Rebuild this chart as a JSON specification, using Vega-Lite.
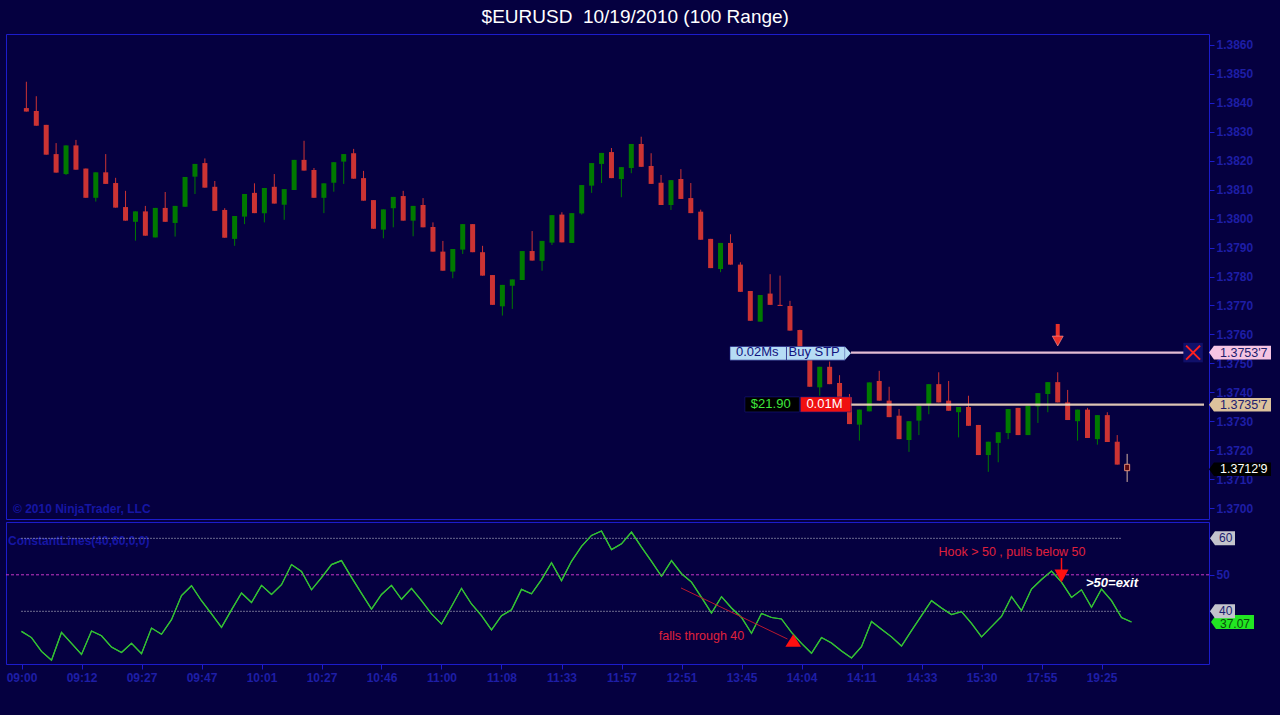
{
  "$schema": "https://vega.github.io/schema/vega-lite/v6.json",
  "background": "#050040",
  "padding": {"left": 5, "top": 7, "right": 0, "bottom": 0},
  "title": {
    "text": "$EURUSD \u00a010/19/2010 (100 Range)",
    "color": "#ffffff",
    "font": "Liberation Sans",
    "fontSize": 19,
    "fontWeight": "normal",
    "anchor": "middle",
    "frame": "bounds",
    "dx": -8,
    "offset": 7
  },
  "spacing": 1,
  "datasets": {
    "bars": [
      {"i": 0, "open": 1.38382, "high": 1.38473, "low": 1.38370, "close": 1.38370, "osc": 34.5},
      {"i": 1, "open": 1.38372, "high": 1.38423, "low": 1.38321, "close": 1.38321, "osc": 32.8},
      {"i": 2, "open": 1.38324, "high": 1.38324, "low": 1.38221, "close": 1.38221, "osc": 29.0},
      {"i": 3, "open": 1.38223, "high": 1.38261, "low": 1.38159, "close": 1.38159, "osc": 26.6},
      {"i": 4, "open": 1.38154, "high": 1.38253, "low": 1.38151, "close": 1.38253, "osc": 34.2},
      {"i": 5, "open": 1.38253, "high": 1.38272, "low": 1.38169, "close": 1.38169, "osc": 31.2},
      {"i": 6, "open": 1.38173, "high": 1.38173, "low": 1.38072, "close": 1.38072, "osc": 28.2},
      {"i": 7, "open": 1.38072, "high": 1.38160, "low": 1.38059, "close": 1.38160, "osc": 34.6},
      {"i": 8, "open": 1.38160, "high": 1.38223, "low": 1.38120, "close": 1.38120, "osc": 33.3},
      {"i": 9, "open": 1.38123, "high": 1.38141, "low": 1.38038, "close": 1.38038, "osc": 30.2},
      {"i": 10, "open": 1.38040, "high": 1.38096, "low": 1.37993, "close": 1.37993, "osc": 28.7},
      {"i": 11, "open": 1.37989, "high": 1.38025, "low": 1.37924, "close": 1.38025, "osc": 31.2},
      {"i": 12, "open": 1.38025, "high": 1.38044, "low": 1.37941, "close": 1.37941, "osc": 28.4},
      {"i": 13, "open": 1.37935, "high": 1.38037, "low": 1.37935, "close": 1.38037, "osc": 35.4},
      {"i": 14, "open": 1.38037, "high": 1.38092, "low": 1.37989, "close": 1.37989, "osc": 33.7},
      {"i": 15, "open": 1.37985, "high": 1.38044, "low": 1.37938, "close": 1.38044, "osc": 37.7},
      {"i": 16, "open": 1.38041, "high": 1.38144, "low": 1.38041, "close": 1.38144, "osc": 44.3},
      {"i": 17, "open": 1.38145, "high": 1.38189, "low": 1.38085, "close": 1.38189, "osc": 47.0},
      {"i": 18, "open": 1.38192, "high": 1.38208, "low": 1.38107, "close": 1.38107, "osc": 42.9},
      {"i": 19, "open": 1.38110, "high": 1.38130, "low": 1.38027, "close": 1.38027, "osc": 39.3},
      {"i": 20, "open": 1.38030, "high": 1.38036, "low": 1.37934, "close": 1.37934, "osc": 35.6},
      {"i": 21, "open": 1.37930, "high": 1.38009, "low": 1.37906, "close": 1.38009, "osc": 40.4},
      {"i": 22, "open": 1.38007, "high": 1.38085, "low": 1.37981, "close": 1.38085, "osc": 45.0},
      {"i": 23, "open": 1.38089, "high": 1.38122, "low": 1.38019, "close": 1.38019, "osc": 42.4},
      {"i": 24, "open": 1.38019, "high": 1.38106, "low": 1.37987, "close": 1.38106, "osc": 47.1},
      {"i": 25, "open": 1.38110, "high": 1.38154, "low": 1.38052, "close": 1.38052, "osc": 44.6},
      {"i": 26, "open": 1.38048, "high": 1.38102, "low": 1.37996, "close": 1.38102, "osc": 47.3},
      {"i": 27, "open": 1.38099, "high": 1.38203, "low": 1.38099, "close": 1.38203, "osc": 52.8},
      {"i": 28, "open": 1.38203, "high": 1.38269, "low": 1.38166, "close": 1.38166, "osc": 50.9},
      {"i": 29, "open": 1.38168, "high": 1.38175, "low": 1.38072, "close": 1.38072, "osc": 45.9},
      {"i": 30, "open": 1.38072, "high": 1.38122, "low": 1.38019, "close": 1.38122, "osc": 49.2},
      {"i": 31, "open": 1.38124, "high": 1.38195, "low": 1.38093, "close": 1.38195, "osc": 52.8},
      {"i": 32, "open": 1.38197, "high": 1.38223, "low": 1.38120, "close": 1.38223, "osc": 53.9},
      {"i": 33, "open": 1.38226, "high": 1.38241, "low": 1.38138, "close": 1.38138, "osc": 49.3},
      {"i": 34, "open": 1.38140, "high": 1.38165, "low": 1.38062, "close": 1.38062, "osc": 44.9},
      {"i": 35, "open": 1.38064, "high": 1.38064, "low": 1.37965, "close": 1.37965, "osc": 40.6},
      {"i": 36, "open": 1.37962, "high": 1.38032, "low": 1.37932, "close": 1.38032, "osc": 44.6},
      {"i": 37, "open": 1.38036, "high": 1.38075, "low": 1.37970, "close": 1.38075, "osc": 47.1},
      {"i": 38, "open": 1.38078, "high": 1.38096, "low": 1.37993, "close": 1.37993, "osc": 43.3},
      {"i": 39, "open": 1.37993, "high": 1.38044, "low": 1.37939, "close": 1.38044, "osc": 46.3},
      {"i": 40, "open": 1.38047, "high": 1.38071, "low": 1.37970, "close": 1.37970, "osc": 42.9},
      {"i": 41, "open": 1.37971, "high": 1.37987, "low": 1.37886, "close": 1.37886, "osc": 39.3},
      {"i": 42, "open": 1.37886, "high": 1.37923, "low": 1.37820, "close": 1.37820, "osc": 36.5},
      {"i": 43, "open": 1.37817, "high": 1.37895, "low": 1.37794, "close": 1.37895, "osc": 41.3},
      {"i": 44, "open": 1.37893, "high": 1.37981, "low": 1.37878, "close": 1.37981, "osc": 46.3},
      {"i": 45, "open": 1.37981, "high": 1.37981, "low": 1.37884, "close": 1.37884, "osc": 42.0},
      {"i": 46, "open": 1.37884, "high": 1.37906, "low": 1.37803, "close": 1.37803, "osc": 38.8},
      {"i": 47, "open": 1.37805, "high": 1.37805, "low": 1.37702, "close": 1.37702, "osc": 34.9},
      {"i": 48, "open": 1.37697, "high": 1.37771, "low": 1.37665, "close": 1.37771, "osc": 38.8},
      {"i": 49, "open": 1.37768, "high": 1.37790, "low": 1.37688, "close": 1.37790, "osc": 40.4},
      {"i": 50, "open": 1.37788, "high": 1.37888, "low": 1.37788, "close": 1.37888, "osc": 46.0},
      {"i": 51, "open": 1.37888, "high": 1.37957, "low": 1.37855, "close": 1.37855, "osc": 44.8},
      {"i": 52, "open": 1.37854, "high": 1.37923, "low": 1.37820, "close": 1.37923, "osc": 48.7},
      {"i": 53, "open": 1.37917, "high": 1.38012, "low": 1.37909, "close": 1.38012, "osc": 53.3},
      {"i": 54, "open": 1.38014, "high": 1.38022, "low": 1.37918, "close": 1.37918, "osc": 48.4},
      {"i": 55, "open": 1.37916, "high": 1.38019, "low": 1.37916, "close": 1.38019, "osc": 53.7},
      {"i": 56, "open": 1.38018, "high": 1.38116, "low": 1.38014, "close": 1.38116, "osc": 57.8},
      {"i": 57, "open": 1.38114, "high": 1.38192, "low": 1.38089, "close": 1.38192, "osc": 60.8},
      {"i": 58, "open": 1.38189, "high": 1.38227, "low": 1.38123, "close": 1.38227, "osc": 62.0},
      {"i": 59, "open": 1.38230, "high": 1.38244, "low": 1.38140, "close": 1.38140, "osc": 56.9},
      {"i": 60, "open": 1.38137, "high": 1.38178, "low": 1.38074, "close": 1.38178, "osc": 58.5},
      {"i": 61, "open": 1.38175, "high": 1.38258, "low": 1.38157, "close": 1.38258, "osc": 61.7},
      {"i": 62, "open": 1.38258, "high": 1.38283, "low": 1.38179, "close": 1.38179, "osc": 57.6},
      {"i": 63, "open": 1.38182, "high": 1.38226, "low": 1.38120, "close": 1.38120, "osc": 53.7},
      {"i": 64, "open": 1.38124, "high": 1.38151, "low": 1.38047, "close": 1.38047, "osc": 49.6},
      {"i": 65, "open": 1.38047, "high": 1.38133, "low": 1.38030, "close": 1.38133, "osc": 53.9},
      {"i": 66, "open": 1.38137, "high": 1.38171, "low": 1.38068, "close": 1.38068, "osc": 50.3},
      {"i": 67, "open": 1.38071, "high": 1.38123, "low": 1.38019, "close": 1.38019, "osc": 48.0},
      {"i": 68, "open": 1.38024, "high": 1.38031, "low": 1.37927, "close": 1.37927, "osc": 43.8},
      {"i": 69, "open": 1.37930, "high": 1.37930, "low": 1.37829, "close": 1.37829, "osc": 39.5},
      {"i": 70, "open": 1.37826, "high": 1.37916, "low": 1.37815, "close": 1.37916, "osc": 44.0},
      {"i": 71, "open": 1.37916, "high": 1.37946, "low": 1.37841, "close": 1.37841, "osc": 40.9},
      {"i": 72, "open": 1.37841, "high": 1.37849, "low": 1.37747, "close": 1.37747, "osc": 38.3},
      {"i": 73, "open": 1.37750, "high": 1.37750, "low": 1.37647, "close": 1.37647, "osc": 34.0},
      {"i": 74, "open": 1.37644, "high": 1.37736, "low": 1.37644, "close": 1.37736, "osc": 39.4},
      {"i": 75, "open": 1.37741, "high": 1.37808, "low": 1.37702, "close": 1.37702, "osc": 38.3},
      {"i": 76, "open": 1.37702, "high": 1.37803, "low": 1.37698, "close": 1.37698, "osc": 37.9},
      {"i": 77, "open": 1.37698, "high": 1.37716, "low": 1.37613, "close": 1.37613, "osc": 34.2},
      {"i": 78, "open": 1.37615, "high": 1.37616, "low": 1.37515, "close": 1.37515, "osc": 31.2},
      {"i": 79, "open": 1.37515, "high": 1.37515, "low": 1.37419, "close": 1.37419, "osc": 28.5},
      {"i": 80, "open": 1.37417, "high": 1.37488, "low": 1.37388, "close": 1.37488, "osc": 32.8},
      {"i": 81, "open": 1.37488, "high": 1.37506, "low": 1.37428, "close": 1.37428, "osc": 31.3},
      {"i": 82, "open": 1.37432, "high": 1.37459, "low": 1.37383, "close": 1.37383, "osc": 29.1},
      {"i": 83, "open": 1.37383, "high": 1.37394, "low": 1.37290, "close": 1.37290, "osc": 27.2},
      {"i": 84, "open": 1.37288, "high": 1.37340, "low": 1.37233, "close": 1.37340, "osc": 30.3},
      {"i": 85, "open": 1.37334, "high": 1.37434, "low": 1.37334, "close": 1.37434, "osc": 37.2},
      {"i": 86, "open": 1.37439, "high": 1.37474, "low": 1.37371, "close": 1.37371, "osc": 35.1},
      {"i": 87, "open": 1.37371, "high": 1.37419, "low": 1.37314, "close": 1.37314, "osc": 33.0},
      {"i": 88, "open": 1.37319, "high": 1.37342, "low": 1.37238, "close": 1.37238, "osc": 30.5},
      {"i": 89, "open": 1.37235, "high": 1.37300, "low": 1.37194, "close": 1.37300, "osc": 34.7},
      {"i": 90, "open": 1.37302, "high": 1.37353, "low": 1.37252, "close": 1.37353, "osc": 38.8},
      {"i": 91, "open": 1.37359, "high": 1.37428, "low": 1.37324, "close": 1.37428, "osc": 42.9},
      {"i": 92, "open": 1.37428, "high": 1.37469, "low": 1.37365, "close": 1.37365, "osc": 40.9},
      {"i": 93, "open": 1.37371, "high": 1.37439, "low": 1.37336, "close": 1.37336, "osc": 39.1},
      {"i": 94, "open": 1.37331, "high": 1.37349, "low": 1.37244, "close": 1.37349, "osc": 39.9},
      {"i": 95, "open": 1.37349, "high": 1.37388, "low": 1.37284, "close": 1.37284, "osc": 36.7},
      {"i": 96, "open": 1.37287, "high": 1.37287, "low": 1.37183, "close": 1.37183, "osc": 33.0},
      {"i": 97, "open": 1.37183, "high": 1.37229, "low": 1.37125, "close": 1.37229, "osc": 35.8},
      {"i": 98, "open": 1.37225, "high": 1.37262, "low": 1.37158, "close": 1.37262, "osc": 38.6},
      {"i": 99, "open": 1.37259, "high": 1.37342, "low": 1.37238, "close": 1.37342, "osc": 44.0},
      {"i": 100, "open": 1.37346, "high": 1.37346, "low": 1.37252, "close": 1.37252, "osc": 40.2},
      {"i": 101, "open": 1.37252, "high": 1.37353, "low": 1.37252, "close": 1.37353, "osc": 46.1},
      {"i": 102, "open": 1.37351, "high": 1.37397, "low": 1.37294, "close": 1.37397, "osc": 48.7},
      {"i": 103, "open": 1.37394, "high": 1.37435, "low": 1.37331, "close": 1.37435, "osc": 51.0},
      {"i": 104, "open": 1.37435, "high": 1.37469, "low": 1.37365, "close": 1.37365, "osc": 48.0},
      {"i": 105, "open": 1.37365, "high": 1.37408, "low": 1.37304, "close": 1.37304, "osc": 43.8},
      {"i": 106, "open": 1.37300, "high": 1.37340, "low": 1.37233, "close": 1.37340, "osc": 45.9},
      {"i": 107, "open": 1.37340, "high": 1.37346, "low": 1.37242, "close": 1.37242, "osc": 41.1},
      {"i": 108, "open": 1.37238, "high": 1.37321, "low": 1.37219, "close": 1.37321, "osc": 46.1},
      {"i": 109, "open": 1.37321, "high": 1.37331, "low": 1.37228, "close": 1.37228, "osc": 42.9},
      {"i": 110, "open": 1.37229, "high": 1.37252, "low": 1.37150, "close": 1.37150, "osc": 38.3},
      {"i": 111, "open": 1.37151, "high": 1.37187, "low": 1.37090, "close": 1.37129, "osc": 37.07}
    ]
  },
  "vconcat": [
    {
      "width": 1203,
      "height": 485,
      "resolve": {"scale": {"color": "independent", "fill": "independent"}},
      "layer": [
        {
          "data": {"name": "bars"},
          "transform": [{"filter": "datum.i < 111"}],
          "mark": {"type": "rule", "strokeWidth": 1},
          "encoding": {
            "x": {"field": "i", "type": "quantitative", "title": null, "scale": {"domain": [-1.55, 118.75], "nice": false, "zero": false}, "axis": null},
            "y": {
              "field": "low", "type": "quantitative", "title": null,
              "scale": {"domain": [1.36962, 1.38638], "nice": false, "zero": false},
              "axis": {
                "orient": "right", "title": null, "grid": false, "domain": false,
                "values": [1.370, 1.371, 1.372, 1.373, 1.374, 1.375, 1.376, 1.377, 1.378, 1.379, 1.380, 1.381, 1.382, 1.383, 1.384, 1.385, 1.386],
                "tickCount": 20,
                "format": ".4f", "tickSize": 5, "tickColor": "#1c1ccc", "labelPadding": 2, "labelOverlap": false,
                "labelColor": "#1e1ea6", "labelFont": "Liberation Sans", "labelFontSize": 12, "labelFontWeight": "bold",
                "minExtent": 72, "maxExtent": 72
              }
            },
            "y2": {"field": "high"},
            "color": {"condition": {"test": "datum.close >= datum.open", "value": "#007a00"}, "value": "#cc3333"}
          }
        },
        {
          "data": {"values": [{"i": -1.35, "p": 1.36997, "label": "© 2010 NinjaTrader, LLC"}]},
          "mark": {"type": "text", "align": "left", "baseline": "middle", "fontSize": 12, "fontWeight": "bold", "color": "#1616a4"},
          "encoding": {
            "x": {"field": "i", "type": "quantitative", "title": null},
            "y": {"field": "p", "type": "quantitative", "title": null},
            "text": {"field": "label"}
          }
        },
        {
          "data": {"name": "bars"},
          "transform": [{"filter": "datum.i < 111"}],
          "mark": {"type": "bar", "width": 5},
          "encoding": {
            "x": {"field": "i", "type": "quantitative", "title": null},
            "y": {"field": "open", "type": "quantitative", "title": null},
            "y2": {"field": "close"},
            "color": {"condition": {"test": "datum.close >= datum.open", "value": "#007a00"}, "value": "#cc3333"}
          }
        },
        {
          "data": {"name": "bars"},
          "transform": [{"filter": "datum.i == 111"}],
          "mark": {"type": "rule", "strokeWidth": 1, "color": "#d8b4a4"},
          "encoding": {
            "x": {"field": "i", "type": "quantitative", "title": null},
            "y": {"field": "low", "type": "quantitative", "title": null},
            "y2": {"field": "high"}
          }
        },
        {
          "data": {"name": "bars"},
          "transform": [{"filter": "datum.i == 111"}],
          "mark": {"type": "bar", "width": 5, "fill": "#5a0810", "stroke": "#e08a74", "strokeWidth": 1},
          "encoding": {
            "x": {"field": "i", "type": "quantitative", "title": null},
            "y": {"field": "open", "type": "quantitative", "title": null},
            "y2": {"field": "close"}
          }
        },
        {
          "data": {"values": [
            {"line": "stop", "p": 1.37537, "from": 83.15, "to": 117.0},
            {"line": "position", "p": 1.37357, "from": 83.15, "to": 118.75}
          ]},
          "mark": {"type": "rule", "strokeWidth": 2.2, "opacity": 0.92},
          "encoding": {
            "x": {"field": "from", "type": "quantitative", "title": null},
            "x2": {"field": "to"},
            "y": {"field": "p", "type": "quantitative", "title": null},
            "color": {"field": "line", "type": "nominal", "scale": {"domain": ["stop", "position"], "range": ["#f6cce0", "#f0d6be"]}, "legend": null}
          }
        },
        {
          "data": {"values": [
            {"box": "qty", "x1": 70.95, "x2": 76.65, "lo": 1.37511, "hi": 1.37558, "label": "0.02Ms"},
            {"box": "order", "x1": 76.65, "x2": 82.55, "lo": 1.37511, "hi": 1.37558, "label": "Buy STP"},
            {"box": "pnl", "x1": 72.45, "x2": 77.95, "lo": 1.37332, "hi": 1.37384, "label": "$21.90"},
            {"box": "pos", "x1": 78.05, "x2": 83.15, "lo": 1.37332, "hi": 1.37384, "label": "0.01M"}
          ]},
          "layer": [
            {
              "mark": {"type": "rect", "stroke": "#1a1a80", "strokeWidth": 0.6},
              "encoding": {
                "x": {"field": "x1", "type": "quantitative", "title": null},
                "x2": {"field": "x2"},
                "y": {"field": "lo", "type": "quantitative", "title": null},
                "y2": {"field": "hi"},
                "fill": {"field": "box", "type": "nominal", "scale": {"domain": ["qty", "order", "pnl", "pos"], "range": ["#b6dcf4", "#b6dcf4", "#000000", "#f01010"]}, "legend": null}
              }
            },
            {
              "transform": [{"filter": "datum.box != 'order'"}],
              "mark": {"type": "text", "align": "left", "baseline": "bottom", "dx": 6, "dy": -1, "fontSize": 13},
              "encoding": {
                "x": {"field": "x1", "type": "quantitative", "title": null},
                "y": {"field": "lo", "type": "quantitative", "title": null},
                "text": {"field": "label"},
                "color": {"field": "box", "type": "nominal", "scale": {"domain": ["qty", "order", "pnl", "pos"], "range": ["#12127e", "#12127e", "#3ee83e", "#ffffff"]}, "legend": null}
              }
            },
            {
              "transform": [{"filter": "datum.box == 'order'"}],
              "mark": {"type": "text", "align": "left", "baseline": "bottom", "dx": 2, "dy": -1, "fontSize": 13, "color": "#12127e"},
              "encoding": {
                "x": {"field": "x1", "type": "quantitative", "title": null},
                "y": {"field": "lo", "type": "quantitative", "title": null},
                "text": {"field": "label"}
              }
            }
          ]
        },
        {
          "data": {"values": [{"i": 82.85, "p": 1.37535}]},
          "mark": {"type": "point", "shape": "M-0.45,-1L0.45,0L-0.45,1Z", "size": 169, "filled": true, "color": "#b6dcf4", "opacity": 1},
          "encoding": {
            "x": {"field": "i", "type": "quantitative", "title": null},
            "y": {"field": "p", "type": "quantitative", "title": null}
          }
        },
        {
          "data": {"values": [{"i": 117.65, "p": 1.37537}]},
          "layer": [
            {
              "mark": {"type": "point", "shape": "square", "size": 380, "filled": true, "color": "#10106a", "opacity": 1},
              "encoding": {
                "x": {"field": "i", "type": "quantitative", "title": null},
                "y": {"field": "p", "type": "quantitative", "title": null}
              }
            },
            {
              "mark": {"type": "point", "shape": "M-1,-1L1,1M1,-1L-1,1", "size": 196, "filled": false, "stroke": "#ff2020", "strokeWidth": 2, "opacity": 1},
              "encoding": {
                "x": {"field": "i", "type": "quantitative", "title": null},
                "y": {"field": "p", "type": "quantitative", "title": null}
              }
            }
          ]
        },
        {
          "data": {"values": [{"i": 104, "top": 1.37636, "bottom": 1.37590, "head": 1.37577}]},
          "layer": [
            {
              "mark": {"type": "rule", "strokeWidth": 4, "color": "#e8302a"},
              "encoding": {
                "x": {"field": "i", "type": "quantitative", "title": null},
                "y": {"field": "top", "type": "quantitative", "title": null},
                "y2": {"field": "bottom"}
              }
            },
            {
              "mark": {"type": "point", "shape": "M-1,-0.9L1,-0.9L0,0.9Z", "size": 121, "filled": true, "color": "#e8302a", "stroke": "#ff9a9a", "strokeWidth": 0.6, "opacity": 1},
              "encoding": {
                "x": {"field": "i", "type": "quantitative", "title": null},
                "y": {"field": "head", "type": "quantitative", "title": null}
              }
            }
          ]
        },
        {
          "data": {"values": [
            {"tag": "stop", "p": 1.37537, "label": "1.3753'7"},
            {"tag": "position", "p": 1.37357, "label": "1.3735'7"},
            {"tag": "last", "p": 1.37134, "label": "1.3712'9"}
          ]},
          "layer": [
            {
              "mark": {"type": "point", "shape": "M-1,0L-0.84,-0.22L1,-0.22L1,0.22L-0.84,0.22Z", "size": 3844, "filled": true, "opacity": 1, "xOffset": 31},
              "encoding": {
                "x": {"value": "width"},
                "y": {"field": "p", "type": "quantitative", "title": null},
                "fill": {"field": "tag", "type": "nominal", "scale": {"domain": ["stop", "position", "last"], "range": ["#f6c4e2", "#dcc29c", "#000000"]}, "legend": null}
              }
            },
            {
              "mark": {"type": "text", "align": "left", "baseline": "middle", "dx": 11, "fontSize": 12.5},
              "encoding": {
                "x": {"value": "width"},
                "y": {"field": "p", "type": "quantitative", "title": null},
                "text": {"field": "label"},
                "color": {"field": "tag", "type": "nominal", "scale": {"domain": ["stop", "position", "last"], "range": ["#20206e", "#20206e", "#ffffff"]}, "legend": null}
              }
            }
          ]
        }
      ]
    },
    {
      "width": 1203,
      "height": 142,
      "layer": [
        {
          "data": {"name": "bars"},
          "mark": {"type": "line", "color": "#34c034", "strokeWidth": 1.2},
          "encoding": {
            "x": {
              "field": "i", "type": "quantitative", "title": null,
              "scale": {"domain": [-1.55, 118.75], "nice": false, "zero": false},
              "axis": {
                "orient": "bottom", "title": null, "grid": false, "domain": false,
                "values": [0, 6, 12, 18, 24, 30, 36, 42, 48, 54, 60, 66, 72, 78, 84, 90, 96, 102, 108],
                "tickCount": 40,
                "labelExpr": "['09:00','09:12','09:27','09:47','10:01','10:27','10:46','11:00','11:08','11:33','11:57','12:51','13:45','14:04','14:11','14:33','15:30','17:55','19:25'][round(datum.value / 6)]",
                "tickSize": 5, "tickColor": "#1c1ccc", "labelPadding": 3, "labelFlush": false, "labelOverlap": false,
                "labelColor": "#1e1ea6", "labelFont": "Liberation Sans", "labelFontSize": 12, "labelFontWeight": "bold",
                "minExtent": 52, "maxExtent": 52
              }
            },
            "y": {
              "field": "osc", "type": "quantitative", "title": null,
              "scale": {"domain": [25.56, 64.47], "nice": false, "zero": false},
              "axis": {
                "orient": "right", "title": null, "grid": false, "domain": false,
                "values": [40, 50, 60], "tickCount": 10, "tickSize": 5, "tickColor": "#1c1ccc", "labelPadding": 2, "labelOverlap": false,
                "labelColor": "#1e1ea6", "labelFont": "Liberation Sans", "labelFontSize": 12, "labelFontWeight": "bold",
                "minExtent": 72, "maxExtent": 72
              }
            }
          }
        },
        {
          "data": {"values": [{"i": -1.35, "v": 59.3, "label": "ConstantLines(40,60,0,0)"}]},
          "mark": {"type": "text", "align": "left", "baseline": "middle", "fontSize": 12, "fontWeight": "bold", "color": "#1616a4"},
          "encoding": {
            "x": {"field": "i", "type": "quantitative", "title": null},
            "y": {"field": "v", "type": "quantitative", "title": null},
            "text": {"field": "label"}
          }
        },
        {
          "data": {"values": [{"level": 60}, {"level": 40}]},
          "mark": {"type": "rule", "color": "#d4d4dc", "strokeWidth": 1, "strokeDash": [1, 2]},
          "encoding": {
            "x": {"datum": 0, "type": "quantitative", "title": null},
            "x2": {"datum": 110},
            "y": {"field": "level", "type": "quantitative", "title": null}
          }
        },
        {
          "data": {"values": [{"level": 50}]},
          "mark": {"type": "rule", "color": "#c636c6", "strokeWidth": 1, "strokeDash": [3, 2]},
          "encoding": {
            "y": {"field": "level", "type": "quantitative", "title": null}
          }
        },
        {
          "data": {"name": "bars"},
          "mark": {"type": "line", "color": "#34c034", "strokeWidth": 1.2},
          "encoding": {
            "x": {"field": "i", "type": "quantitative", "title": null},
            "y": {"field": "osc", "type": "quantitative", "title": null}
          }
        },
        {
          "data": {"values": [{"i": 65.95, "v": 46.4, "i2": 76.6, "v2": 32.4}]},
          "mark": {"type": "rule", "color": "#b8182e", "strokeWidth": 1},
          "encoding": {
            "x": {"field": "i", "type": "quantitative", "title": null},
            "x2": {"field": "i2"},
            "y": {"field": "v", "type": "quantitative", "title": null},
            "y2": {"field": "v2"}
          }
        },
        {
          "data": {"values": [{"i": 77.17, "v": 32.0}]},
          "mark": {"type": "point", "shape": "M-1,0.8L1,0.8L0,-0.8Z", "size": 246, "filled": true, "color": "#ff1010", "opacity": 1},
          "encoding": {
            "x": {"field": "i", "type": "quantitative", "title": null},
            "y": {"field": "v", "type": "quantitative", "title": null}
          }
        },
        {
          "data": {"values": [
            {"i": 68.0, "v": 33.1, "label": "falls through 40"},
            {"i": 99.05, "v": 56.2, "label": "Hook > 50 , pulls below 50"}
          ]},
          "mark": {"type": "text", "align": "center", "baseline": "middle", "fontSize": 12.5, "color": "#e0203c"},
          "encoding": {
            "x": {"field": "i", "type": "quantitative", "title": null},
            "y": {"field": "v", "type": "quantitative", "title": null},
            "text": {"field": "label"}
          }
        },
        {
          "data": {"values": [{"i": 109.05, "v": 47.7, "label": ">50=exit"}]},
          "mark": {"type": "text", "align": "center", "baseline": "middle", "fontSize": 13, "fontWeight": "bold", "fontStyle": "italic", "color": "#ffffff"},
          "encoding": {
            "x": {"field": "i", "type": "quantitative", "title": null},
            "y": {"field": "v", "type": "quantitative", "title": null},
            "text": {"field": "label"}
          }
        },
        {
          "data": {"values": [{"i": 104, "top": 54.6, "bottom": 51.3, "head": 49.7}]},
          "layer": [
            {
              "mark": {"type": "rule", "strokeWidth": 1.5, "color": "#ff1010"},
              "encoding": {
                "x": {"field": "i", "type": "quantitative", "title": null},
                "y": {"field": "top", "type": "quantitative", "title": null},
                "y2": {"field": "bottom"}
              }
            },
            {
              "mark": {"type": "point", "shape": "M-1,-0.93L1,-0.93L0,0.93Z", "size": 196, "filled": true, "color": "#ff1010", "opacity": 1},
              "encoding": {
                "x": {"field": "i", "type": "quantitative", "title": null},
                "y": {"field": "head", "type": "quantitative", "title": null}
              }
            }
          ]
        },
        {
          "data": {"values": [{"v": 37.07, "label": "37.07"}]},
          "layer": [
            {
              "mark": {"type": "point", "shape": "M-1,0L-0.77,-0.33L1,-0.33L1,0.33L-0.77,0.33Z", "size": 1849, "filled": true, "opacity": 1, "color": "#22e622", "xOffset": 23.5},
              "encoding": {
                "x": {"value": "width"},
                "y": {"field": "v", "type": "quantitative", "title": null}
              }
            },
            {
              "mark": {"type": "text", "align": "left", "baseline": "middle", "dx": 11, "dy": 2, "fontSize": 12, "color": "#0a4a0a"},
              "encoding": {
                "x": {"value": "width"},
                "y": {"field": "v", "type": "quantitative", "title": null},
                "text": {"field": "label"}
              }
            }
          ]
        },
        {
          "data": {"values": [{"v": 60, "label": "60"}, {"v": 40, "label": "40"}]},
          "layer": [
            {
              "mark": {"type": "point", "shape": "M-1,0L-0.6,-0.56L1,-0.56L1,0.56L-0.6,0.56Z", "size": 625, "filled": true, "opacity": 1, "color": "#c4c4cc", "xOffset": 13.5},
              "encoding": {
                "x": {"value": "width"},
                "y": {"field": "v", "type": "quantitative", "title": null}
              }
            },
            {
              "mark": {"type": "text", "align": "left", "baseline": "middle", "dx": 10, "fontSize": 12, "color": "#1c1c70"},
              "encoding": {
                "x": {"value": "width"},
                "y": {"field": "v", "type": "quantitative", "title": null},
                "text": {"field": "label"}
              }
            }
          ]
        }
      ]
    }
  ],
  "config": {
    "font": "Liberation Sans",
    "view": {"stroke": "#1c1ccc", "strokeWidth": 1}
  }
}
